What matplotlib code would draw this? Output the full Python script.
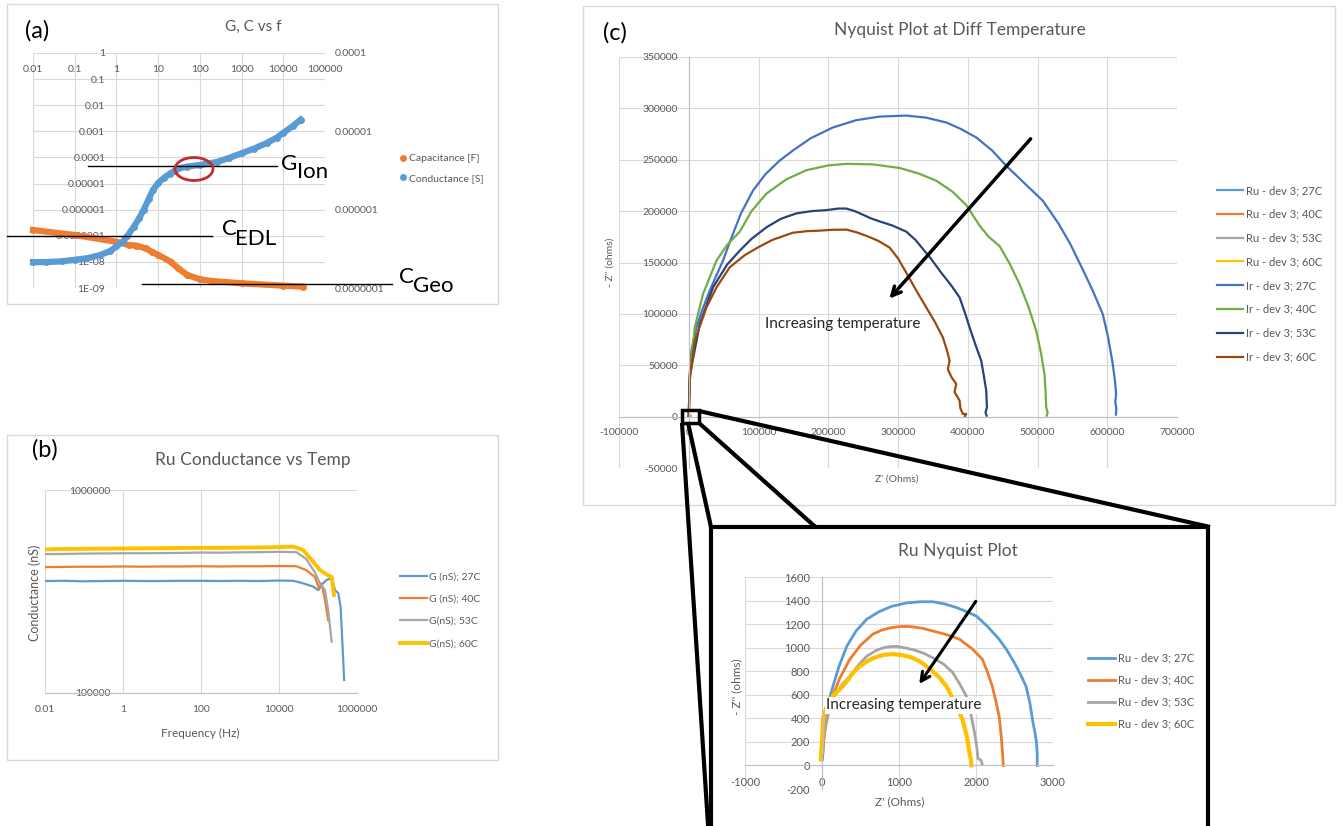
import matplotlib
matplotlib.use("Agg")
import matplotlib.pyplot as plt
from matplotlib.patches import Rectangle, Ellipse
from matplotlib.lines import Line2D
from matplotlib.ticker import FixedLocator, FixedFormatter, NullLocator, NullFormatter

plt.rcParams['font.family'] = ['Lato', 'DejaVu Sans']

W, H = 1342, 826
GRID = '#D9D9D9'
AXIS = '#BFBFBF'
TXT = '#595959'

# ---------------- (a) G, C vs f ----------------
cap_freq = [0.01, 0.1, 1, 2, 3, 5, 7, 10, 20, 30, 50, 100, 200, 1000, 10000, 30000]
cap_val = [1.66e-7, 1.07e-7, 5.9e-8, 4.4e-8, 4.2e-8, 3.3e-8, 2.46e-8, 1.84e-8,
           1.02e-8, 5.7e-9, 3.15e-9, 2.15e-9, 1.85e-9, 1.51e-9, 1.23e-9, 1.12e-9]
cond_freq = [0.01, 0.02, 0.05, 0.1, 0.2, 0.4, 0.7, 1, 1.4, 1.8, 2.6, 3.5, 4.5, 6, 7.5,
             10, 14, 19, 25, 32, 50, 100, 260, 500, 1000, 2000, 4000, 7000, 10000,
             17000, 26000]
cond_val = [2.14e-7, 2.14e-7, 2.19e-7, 2.29e-7, 2.40e-7, 2.63e-7, 2.95e-7, 3.39e-7,
            3.89e-7, 4.57e-7, 6.03e-7, 7.76e-7, 1.0e-6, 1.38e-6, 1.78e-6, 2.19e-6,
            2.57e-6, 2.88e-6, 3.16e-6, 3.39e-6, 3.55e-6, 3.72e-6, 4.07e-6, 4.57e-6,
            5.25e-6, 6.03e-6, 7.08e-6, 8.32e-6, 9.55e-6, 1.17e-5, 1.41e-5]
a_xticks = [0.01, 0.1, 1, 10, 100, 1000, 10000, 100000]
a_xlabels = ['0.01', '0.1', '1', '10', '100', '1000', '10000', '100000']
a_yticks = [1e-9, 1e-8, 1e-7, 1e-6, 1e-5, 1e-4, 1e-3, 1e-2, 1e-1, 1]
a_ylabels = ['1E-09', '1E-08', '0.0000001', '0.000001', '0.00001', '0.0001',
             '0.001', '0.01', '0.1', '1']
a_y2ticks = [1e-7, 1e-6, 1e-5, 1e-4]
a_y2labels = ['0.0000001', '0.000001', '0.00001', '0.0001']

# ---------------- (b) Ru conductance vs temperature ----------------
b_f27 = [0.01, 0.03, 0.1, 0.3, 1, 3, 10, 30, 100, 300, 1000, 3000, 10000, 23400,
         41700, 75900, 102000, 123000, 166000, 224000, 275000, 331000, 380000,
         427000, 468000]
b_g27 = [356000, 357000, 355000, 356000, 357000, 356000, 356000, 357000, 357000,
         356000, 357000, 356000, 358000, 357000, 347000, 334000, 321000, 340000,
         361000, 367000, 321000, 310000, 266000, 169000, 116000]
b_f40 = [0.01, 0.03, 0.1, 0.3, 1, 3, 10, 30, 100, 300, 1000, 3000, 10000, 28000,
         50000, 83000, 107000, 123000, 151000, 182000]
b_g40 = [417000, 418000, 419000, 419000, 420000, 419000, 420000, 420000, 421000,
         420000, 421000, 421000, 422000, 421000, 403000, 373000, 327000, 347000,
         287000, 229000]
b_f53 = [0.01, 0.03, 0.1, 0.3, 1, 3, 10, 30, 100, 300, 1000, 3000, 10000, 28000,
         50000, 83000, 112000, 151000, 182000, 224000]
b_g53 = [483000, 484000, 486000, 487000, 488000, 488000, 489000, 490000, 492000,
         491000, 493000, 494000, 496000, 494000, 457000, 393000, 347000, 321000,
         256000, 179000]
b_f60 = [0.01, 0.03, 0.1, 0.3, 1, 3, 10, 30, 100, 300, 1000, 3000, 10000, 23400,
         41700, 69000, 112000, 182000, 224000, 257000]
b_g60 = [510000, 512000, 513000, 514000, 515000, 516000, 517000, 518000, 519000,
         519000, 520000, 521000, 523000, 526000, 506000, 452000, 403000, 380000,
         373000, 304000]
b_xticks = [0.01, 1, 100, 10000, 1000000]
b_xlabels = ['0.01', '1', '100', '10000', '1000000']
b_yticks = [100000, 1000000]
b_ylabels = ['100000', '1000000']

# ---------------- (c) Nyquist plots ----------------
ru27_re = [5, 20, 39, 80, 142, 220, 323, 440, 582, 740, 900, 1100, 1280, 1436, 1600,
           1750, 1880, 2005, 2150, 2300, 2400, 2500, 2580, 2650, 2700, 2733, 2765,
           2785, 2795, 2795]
ru27_im = [50, 200, 391, 530, 672, 840, 1013, 1140, 1242, 1305, 1350, 1380, 1390, 1390,
           1370, 1340, 1305, 1268, 1180, 1072, 980, 870, 770, 672, 530, 391, 280,
           200, 100, 0]
ru40_re = [10, 20, 40, 75, 120, 230, 362, 500, 660, 780, 900, 1020, 1138, 1300, 1450,
           1620, 1785, 1950, 2083, 2150, 2212, 2260, 2300, 2328, 2345, 2355]
ru40_im = [100, 200, 300, 430, 560, 740, 902, 1020, 1115, 1150, 1170, 1180, 1180, 1165,
           1140, 1110, 1072, 990, 902, 790, 672, 540, 420, 247, 100, 0]
ru53_re = [5, 20, 50, 100, 150, 250, 362, 470, 582, 700, 800, 900, 983, 1100, 1200,
           1330, 1450, 1580, 1695, 1790, 1876, 1935, 1980, 2005, 2018, 2025, 2070, 2080]
ru53_im = [100, 230, 350, 480, 580, 680, 757, 850, 928, 975, 1000, 1010, 1010, 995, 980,
           950, 910, 860, 791, 690, 587, 430, 281, 180, 110, 60, 40, 10]
ru60_re = [-17, 0, 13, 60, 140, 220, 319, 400, 492, 600, 700, 810, 918, 1030, 1150,
           1280, 1400, 1520, 1617, 1720, 1824, 1880, 1915, 1935, 1940]
ru60_im = [51, 200, 391, 500, 590, 640, 710, 785, 843, 890, 920, 940, 945, 938, 920,
           880, 820, 750, 672, 540, 391, 250, 110, 40, 0]

ir27_re = [0, 800, 1400, 4000, 11000, 20000, 30100, 40000, 49100, 60000, 75000, 92100,
           110000, 130000, 149400, 175000, 206700, 240000, 273600, 311900, 340000,
           369200, 390000, 412200, 435000, 455100, 480000, 507600, 530000, 547000,
           565000, 579200, 593500, 601000, 607900, 611000, 612700, 611500, 613000,
           612500]
ir27_im = [0, 20000, 41800, 65000, 86900, 105000, 122600, 138000, 151800, 172000, 198000,
           220000, 236000, 249000, 259000, 271000, 281400, 288500, 292000, 293000,
           291000, 286300, 280000, 271700, 259000, 244200, 228000, 210100, 188000,
           168000, 143000, 122600, 99900, 78000, 51300, 35000, 22100, 14000, 8000,
           2000]
ir40_re = [0, 1500, 8600, 20500, 39700, 55000, 73100, 90000, 111300, 140000, 168600,
           200000, 225900, 264000, 302300, 330000, 354900, 378000, 397800, 416900,
           430000, 445600, 460000, 474200, 487000, 498100, 505000, 510000, 511500,
           512500, 514500, 513300]
ir40_im = [0, 40000, 86900, 119400, 151800, 167000, 180000, 200000, 217000, 231000,
           239800, 244500, 246000, 245500, 242000, 236500, 229600, 219000, 206000,
           186000, 175000, 166000, 149000, 129100, 107000, 83700, 62000, 41500, 25000,
           9000, 4000, 1000]
ir53_re = [0, 1500, 15800, 34800, 55000, 73100, 90000, 111300, 132000, 154300, 176000,
           197300, 215000, 225900, 238000, 249700, 261000, 273600, 292000, 311900,
           325000, 335700, 348000, 362000, 376000, 388300, 396000, 402600, 411000,
           419300, 423000, 426500, 427500, 425500, 427000]
ir53_im = [0, 40000, 90200, 125800, 148000, 161500, 173000, 184200, 192500, 197800,
           200000, 201000, 202500, 202500, 200000, 196500, 193000, 190000, 186000,
           180000, 172000, 163200, 153000, 140000, 128000, 116000, 101000, 86900,
           70000, 54500, 40000, 25300, 9000, 4000, 1000]
ir60_re = [0, 1400, 8600, 25400, 40000, 58700, 80000, 100000, 120000, 149400, 170000,
           187700, 205000, 225900, 240000, 254600, 272000, 288000, 300000, 311900,
           326000, 340500, 353000, 364300, 370000, 373900, 371500, 377000, 383500,
           381000, 388300, 389500, 393000, 397800, 396000]
ir60_im = [0, 35000, 73900, 106300, 126000, 145300, 157000, 165000, 172000, 179000,
           180500, 181000, 181800, 182000, 179500, 176000, 171000, 164500, 154000,
           140000, 123000, 106300, 92000, 77100, 65000, 54500, 46000, 38000, 31800,
           24000, 15600, 8000, 2600, 2600, 500]

c_xticks = [-100000, 0, 100000, 200000, 300000, 400000, 500000, 600000, 700000]
c_xlabels = ['-100000', '0', '100000', '200000', '300000', '400000', '500000', '600000', '700000']
c_yticks = [-50000, 0, 50000, 100000, 150000, 200000, 250000, 300000, 350000]
c_ylabels = ['-50000', '0', '50000', '100000', '150000', '200000', '250000', '300000', '350000']
in_xticks = [-1000, 0, 1000, 2000, 3000]
in_xlabels = ['-1000', '0', '1000', '2000', '3000']
in_yticks = [-200, 0, 200, 400, 600, 800, 1000, 1200, 1400, 1600]
in_ylabels = ['-200', '0', '200', '400', '600', '800', '1000', '1200', '1400', '1600']

ru_labels = ['Ru - dev 3; 27C', 'Ru - dev 3; 40C', 'Ru - dev 3; 53C', 'Ru - dev 3; 60C']
ir_labels = ['Ir - dev 3; 27C', 'Ir - dev 3; 40C', 'Ir - dev 3; 53C', 'Ir - dev 3; 60C']
ru_colors = ['#5B9BD5', '#ED7D31', '#A5A5A5', '#FFC000']
ir_colors = ['#4472C4', '#70AD47', '#264478', '#9E480E']


def rect(x0, y0, x1, y1):
    # pixel box (top-left origin) -> figure fraction
    return [x0 / W, 1 - y1 / H, (x1 - x0) / W, (y1 - y0) / H]


def fpt(x, y):
    return (x / W, 1 - y / H)


def set_ticks(axis, ticks, labels):
    axis.set_major_locator(FixedLocator(ticks))
    axis.set_major_formatter(FixedFormatter(labels))
    axis.set_minor_locator(NullLocator())
    axis.set_minor_formatter(NullFormatter())


def excel_style(ax, size=7.5):
    ax.set_facecolor('none')
    for s in ax.spines.values():
        s.set_visible(False)
    ax.grid(True, color=GRID, lw=0.8)
    ax.set_axisbelow(True)
    ax.tick_params(length=0, labelsize=size, labelcolor=TXT)


fig = plt.figure(figsize=(W / 100, H / 100), dpi=100)

# ---- panel (a)
ax_a = fig.add_axes(rect(33, 53, 325, 288))
ax_a.set_xscale('log')
ax_a.set_yscale('log')
ax_a.set_xlim(0.01, 1e5)
ax_a.set_ylim(1e-9, 1)
excel_style(ax_a)
set_ticks(ax_a.xaxis, a_xticks, a_xlabels)
set_ticks(ax_a.yaxis, a_yticks, a_ylabels)
ax_a.spines['left'].set_position(('data', 1))
ax_a.spines['bottom'].set_position(('data', 1))
ax_a.tick_params(axis='x', pad=8.5)
ax_a.tick_params(axis='y', pad=8)
ax_a.plot(cap_freq, cap_val, 'o-', color='#ED7D31', ms=5, lw=4.5, mew=0, clip_on=False)

ax_a2 = ax_a.twinx()
ax_a2.set_yscale('log')
ax_a2.set_ylim(1e-7, 1e-4)
excel_style(ax_a2)
ax_a2.grid(False)
set_ticks(ax_a2.yaxis, a_y2ticks, a_y2labels)
ax_a2.tick_params(axis='y', pad=7)
ax_a2.plot(cond_freq, cond_val, 'o-', color='#5B9BD5', ms=5, lw=4.5, mew=0, clip_on=False)

a_handles = [Line2D([], [], marker='o', ls='none', color='#ED7D31', ms=5, mew=0),
             Line2D([], [], marker='o', ls='none', color='#5B9BD5', ms=5, mew=0)]
ax_a2.legend(a_handles, ['Capacitance [F]', 'Conductance [S]'], loc='upper left',
             bbox_to_anchor=fpt(398, 154), bbox_transform=fig.transFigure,
             frameon=False, fontsize=7.5, labelcolor=TXT, handlelength=0.9,
             handletextpad=0.2, labelspacing=1.0, borderpad=0, borderaxespad=0)

# ---- panel (b)
ax_b = fig.add_axes(rect(45, 490, 357, 693))
ax_b.set_xscale('log')
ax_b.set_yscale('log')
ax_b.set_xlim(0.01, 1e6)
ax_b.set_ylim(1e5, 1e6)
excel_style(ax_b)
set_ticks(ax_b.xaxis, b_xticks, b_xlabels)
set_ticks(ax_b.yaxis, b_yticks, b_ylabels)
ax_b.spines['left'].set_position(('data', 1))
ax_b.spines['bottom'].set_visible(True)
ax_b.spines['bottom'].set_color(AXIS)
ax_b.tick_params(axis='x', pad=8.5)
ax_b.tick_params(axis='y', pad=9)
ax_b.plot(b_f27, b_g27, color='#5B9BD5', lw=1.6, label='G (nS); 27C')
ax_b.plot(b_f40, b_g40, color='#ED7D31', lw=1.6, label='G (nS); 40C')
ax_b.plot(b_f53, b_g53, color='#A5A5A5', lw=1.6, label='G(nS); 53C')
ax_b.plot(b_f60, b_g60, color='#FFC000', lw=2.8, label='G(nS); 60C')
ax_b.legend(loc='upper left', bbox_to_anchor=fpt(400, 572), bbox_transform=fig.transFigure,
            frameon=False, fontsize=7.5, labelcolor=TXT, handlelength=2.6,
            handletextpad=0.15, labelspacing=1.25, borderpad=0, borderaxespad=0)

# ---- panel (c)
ax_c = fig.add_axes(rect(619, 57, 1177, 468))
ax_c.set_xlim(-100000, 700000)
ax_c.set_ylim(-50000, 350000)
excel_style(ax_c)
set_ticks(ax_c.xaxis, c_xticks, c_xlabels)
set_ticks(ax_c.yaxis, c_yticks, c_ylabels)
for side in ('left', 'bottom'):
    ax_c.spines[side].set_position(('data', 0))
    ax_c.spines[side].set_visible(True)
    ax_c.spines[side].set_color(AXIS)
ax_c.tick_params(axis='x', pad=8)
ax_c.tick_params(axis='y', pad=8)
ru_re = [ru27_re, ru40_re, ru53_re, ru60_re]
ru_im = [ru27_im, ru40_im, ru53_im, ru60_im]
ir_re = [ir27_re, ir40_re, ir53_re, ir60_re]
ir_im = [ir27_im, ir40_im, ir53_im, ir60_im]
for re, im, col, lab in zip(ru_re, ru_im, ru_colors, ru_labels):
    ax_c.plot(re, im, color=col, lw=1.6, label=lab)
for re, im, col, lab in zip(ir_re, ir_im, ir_colors, ir_labels):
    ax_c.plot(re, im, color=col, lw=1.6, label=lab, solid_joinstyle='round')
ax_c.legend(loc='upper left', bbox_to_anchor=fpt(1217, 185), bbox_transform=fig.transFigure,
            frameon=False, fontsize=8, labelcolor=TXT, handlelength=2.3,
            handletextpad=0.3, labelspacing=1.15, borderpad=0, borderaxespad=0)
ax_c.annotate('', xy=(285000, 112800), xytext=(492800, 272400),
              arrowprops=dict(arrowstyle='->', lw=2.5, color='black', mutation_scale=16))
ax_c.text(221000, 90500, 'Increasing temperature', ha='center', va='center',
          fontsize=11, color='#262626')

# ---- overlay: frames, zoom lines, annotations, free text
ov = fig.add_axes([0, 0, 1, 1])
ov.set_xlim(0, W)
ov.set_ylim(H, 0)
ov.axis('off')
ov.patch.set_alpha(0)
ov.set_zorder(5)

for (x0, y0, x1, y1) in [(7, 4, 498, 304), (7, 435, 498, 760), (583, 6, 1335, 505)]:
    ov.add_patch(Rectangle((x0, y0), x1 - x0, y1 - y0, fill=False, ec=GRID, lw=1, zorder=1))

# guide lines in (a)
for (x0, x1, y) in [(88, 277, 166), (7, 212, 236), (142, 392, 284)]:
    ov.plot([x0, x1], [y, y], color='black', lw=1, zorder=2)
ov.add_patch(Ellipse((194, 169), 38, 23, fill=False, ec='#C42B2B', lw=2, zorder=2))
# symbol + subscript, each as its own text
for (sym, x, y, sub, xs, ys) in [('G', 281, 170, 'Ion', 297, 178),
                                 ('C', 222, 235, 'EDL', 235, 245),
                                 ('C', 399, 283, 'Geo', 413, 292)]:
    ov.text(x, y, sym, fontsize=16, ha='left', va='baseline', zorder=4)
    ov.text(xs, ys, sub, fontsize=16, ha='left', va='baseline', zorder=4)

# zoom box and connectors from (c) to the inset
ov.add_patch(Rectangle((682, 410), 17, 13, fill=False, ec='black', lw=2.5, zorder=2))
for (x0, y0, x1, y1) in [(699, 411, 1210, 527), (688, 423, 711, 527),
                         (682, 423, 709, 840), (699, 423, 830, 540)]:
    ov.plot([x0, x1], [y0, y1], color='black', lw=3, solid_capstyle='butt', zorder=2)
ov.add_patch(Rectangle((711, 527), 497, 320, fc='white', ec='black', lw=3, zorder=3))

# titles, panel letters, axis titles
ov.text(37, 31, '(a)', fontsize=17, ha='center', va='center', zorder=4)
ov.text(45, 450, '(b)', fontsize=17, ha='center', va='center', zorder=4)
ov.text(615, 33, '(c)', fontsize=17, ha='center', va='center', zorder=4)
ov.text(253, 27, 'G, C vs f', fontsize=11, color=TXT, ha='center', va='center', zorder=4)
ov.text(253, 460, 'Ru Conductance vs Temp', fontsize=12.5, color=TXT, ha='center',
        va='center', zorder=4)
ov.text(960, 30, 'Nyquist Plot at Diff Temperature', fontsize=12.5, color=TXT,
        ha='center', va='center', zorder=4)
ov.text(958, 551, 'Ru Nyquist Plot', fontsize=12.5, color=TXT, ha='center', va='center', zorder=4)
ov.text(200, 733, 'Frequency (Hz)', fontsize=8.5, color=TXT, ha='center', va='center', zorder=4)
ov.text(35, 593, 'Conductance (nS)', fontsize=9, color=TXT, ha='center', va='center',
        rotation=90, zorder=4)
ov.text(897, 479, "Z' (Ohms)", fontsize=7.5, color=TXT, ha='center', va='center', zorder=4)
ov.text(610, 262, "- Z'' (ohms)", fontsize=7.5, color=TXT, ha='center', va='center',
        rotation=90, zorder=4)
ov.text(900, 802, "Z' (Ohms)", fontsize=8.5, color=TXT, ha='center', va='center', zorder=4)
ov.text(737, 687, "- Z'' (ohms)", fontsize=8.5, color=TXT, ha='center', va='center',
        rotation=90, zorder=4)

# ---- inset: Ru Nyquist plot
ax_in = fig.add_axes(rect(745, 577, 1053, 789))
ax_in.set_zorder(6)
ax_in.set_xlim(-1000, 3000)
ax_in.set_ylim(-200, 1600)
excel_style(ax_in, size=8)
set_ticks(ax_in.xaxis, in_xticks, in_xlabels)
set_ticks(ax_in.yaxis, in_yticks, in_ylabels)
for side in ('left', 'bottom'):
    ax_in.spines[side].set_position(('data', 0))
    ax_in.spines[side].set_visible(True)
    ax_in.spines[side].set_color(AXIS)
ax_in.tick_params(axis='x', pad=8)
ax_in.tick_params(axis='y', pad=8.5)
for re, im, col, lab in zip(ru_re, ru_im, ru_colors, ru_labels):
    ax_in.plot(re, im, color=col, lw=3 if col == '#FFC000' else 2, label=lab,
               solid_joinstyle='round')
ax_in.legend(loc='upper left', bbox_to_anchor=fpt(1088, 652.5), bbox_transform=fig.transFigure,
             frameon=False, fontsize=8, labelcolor=TXT, handlelength=2.4,
             handletextpad=0.3, labelspacing=1.0, borderpad=0, borderaxespad=0)
ax_in.annotate('', xy=(1242, 672), xytext=(2018, 1413),
               arrowprops=dict(arrowstyle='->', lw=2.2, color='black', mutation_scale=16))
ax_in.text(1061, 511, 'Increasing temperature', ha='center', va='center', fontsize=11,
           color='#262626', zorder=5, bbox=dict(fc='white', ec='none', pad=1))

fig.savefig('out.png', dpi=100, facecolor='white')
